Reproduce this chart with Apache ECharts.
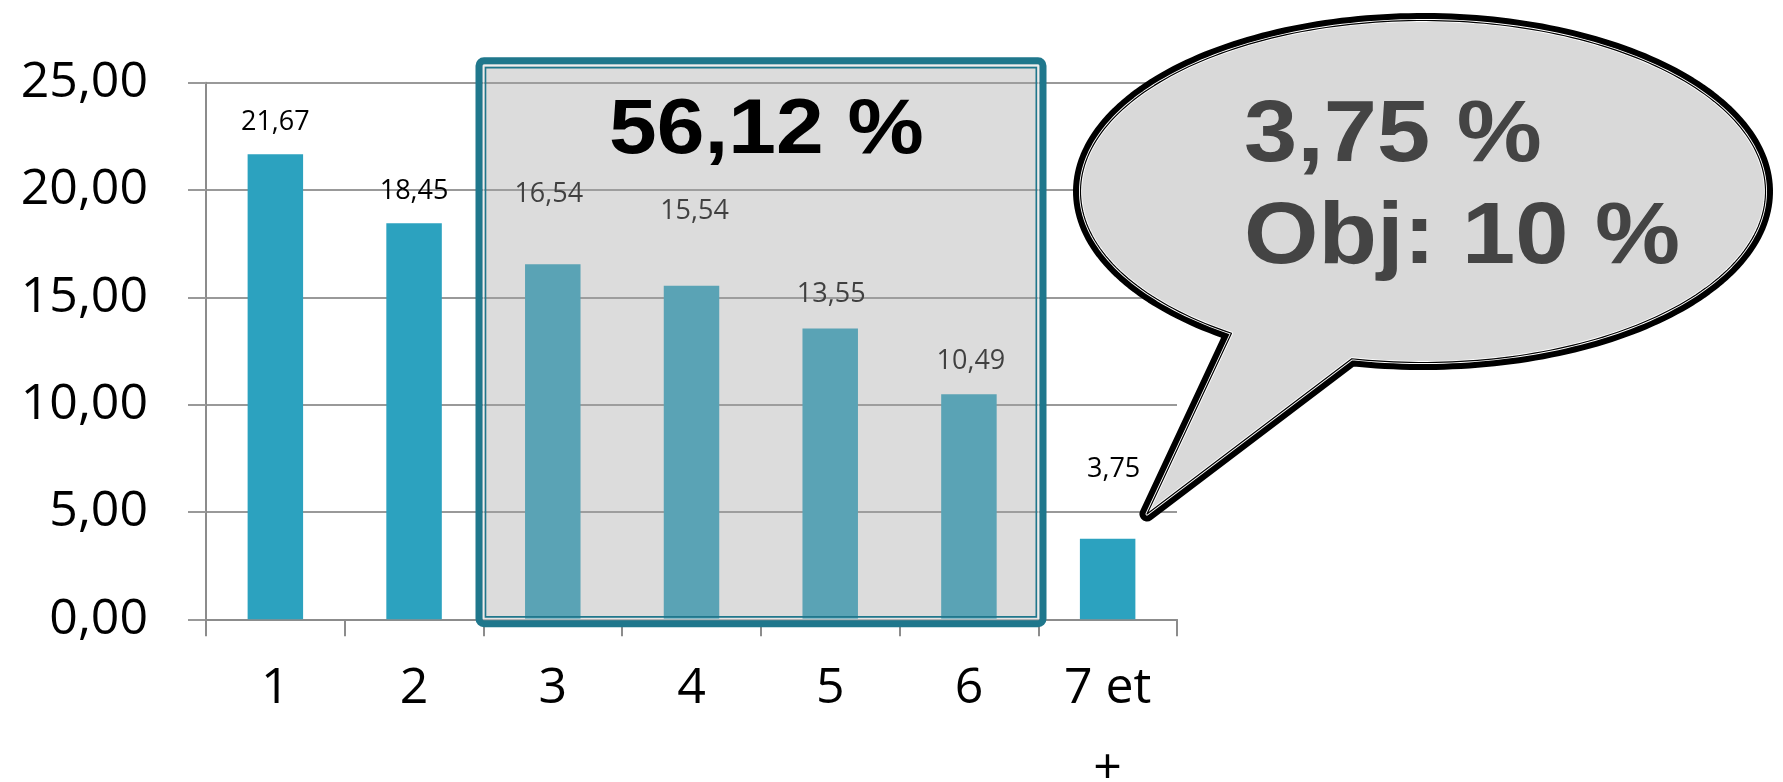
<!DOCTYPE html>
<html><head><meta charset="utf-8">
<script src="https://cdn.jsdelivr.net/npm/echarts@6/dist/echarts.min.js"></script>
<style>html,body{margin:0;padding:0;background:#fff}#c{width:1783px;height:782px}</style>
</head><body><div id="c"></div>
<script>
// ---- data ----
const categories = ['1', '2', '3', '4', '5', '6', '7 et\n+'];
const values = [21.67, 18.45, 16.54, 15.54, 13.55, 10.49, 3.75];
const yMin = 0, yMax = 25, yStep = 5;
const boxText = '56,12 %';
const calloutLines = ['3,75 %', 'Obj: 10 %'];

// ---- style (label placement, px) ----
const labelLift = [32, 32, 70, 74, 34, 33, 69];
const labelShift = [0, 0, -4, 3, 1, 2, 6];

const fmt = v => Number(v).toFixed(2).replace('.', ',');
const chart = echarts.init(document.getElementById('c'), null, {renderer: 'canvas'});

// callout polygon (decoration)
function calloutPoints() {
  const cx = 1423, cy = 191.5, rx = 342.5, ry = 171;
  const a1 = 124 * Math.PI / 180, a2 = (360 + 102) * Math.PI / 180;
  const pts = [];
  const n = 240;
  for (let i = 0; i <= n; i++) {
    const t = a1 + (a2 - a1) * i / n;
    pts.push([cx + rx * Math.cos(t), cy + ry * Math.sin(t)]);
  }
  pts.push([1147, 514]);
  return pts;
}
const cp = calloutPoints();
const boldFont = s => 'bold ' + s + 'px "Liberation Sans", Arial, sans-serif';

const L = 479, T = 60.7, R = 1043, B = 623.7;

chart.setOption({
  animation: false,
  backgroundColor: '#ffffff',
  grid: {left: 206, right: 606, top: 82.7, bottom: 162.7, containLabel: false, outerBoundsMode: 'none'},
  xAxis: {
    type: 'category',
    data: categories,
    axisLine: {show: true, lineStyle: {color: '#8c8c8c', width: 2}},
    axisTick: {show: true, length: 17, lineStyle: {color: '#8c8c8c', width: 2}},
    axisLabel: {interval: 0, color: '#000', fontFamily: '"Open Sans", sans-serif', fontSize: 50, lineHeight: 81, margin: 29}
  },
  yAxis: {
    type: 'value', min: yMin, max: yMax, interval: yStep,
    axisLine: {show: true, lineStyle: {color: '#8c8c8c', width: 2}},
    axisTick: {show: true, length: 18, lineStyle: {color: '#999', width: 2}},
    splitLine: {show: true, lineStyle: {color: '#999', width: 2}},
    axisLabel: {color: '#000', fontFamily: '"Open Sans", sans-serif', fontSize: 50, margin: 58, formatter: v => fmt(v)}
  },
  series: [{
    type: 'bar',
    barWidth: '40%',
    itemStyle: {color: '#2ca2bf'},
    data: values.map((v, i) => ({
      value: v,
      label: {position: ['50%', -labelLift[i]], offset: [labelShift[i], 0]}
    })),
    label: {
      show: true, align: 'center', verticalAlign: 'middle',
      color: '#000', fontFamily: '"Open Sans", sans-serif', fontSize: 27,
      formatter: p => fmt(p.value)
    }
  }],
  graphic: [
    // shaded box overlay
    {type: 'rect', z: 100, shape: {x: L, y: T, width: R - L, height: B - T, r: 4},
      style: {fill: 'rgba(166,166,166,0.39)'}},
    {type: 'rect', z: 101, shape: {x: 483.7, y: 65.4, width: 1038.3 - 483.7, height: 619 - 65.4},
      style: {fill: 'none', stroke: 'rgba(255,255,255,0.55)', lineWidth: 1.2}},
    {type: 'rect', z: 101, shape: {x: 485.5, y: 67.6, width: 1036.3 - 485.5, height: 616.9 - 67.6},
      style: {fill: 'none', stroke: '#1f778c', lineWidth: 1.6}},
    {type: 'rect', z: 102, shape: {x: L, y: T, width: R - L, height: B - T, r: 5},
      style: {fill: 'none', stroke: '#1f778c', lineWidth: 7}},
    {type: 'text', z: 110, x: 609, y: 131.3, scaleX: 1.1,
      style: {text: boxText, font: boldFont(78), fill: '#000', textAlign: 'left', textVerticalAlign: 'middle', align: 'left', verticalAlign: 'middle'}},
    // callout
    {type: 'polygon', z: 120, shape: {points: cp},
      style: {fill: 'none', stroke: '#000', lineWidth: 15, lineJoin: 'round'}},
    {type: 'polygon', z: 121, shape: {points: cp},
      style: {fill: '#d9d9d9', stroke: null}},
    {type: 'polygon', z: 122, shape: {points: cp},
      style: {fill: 'none', stroke: '#fff', lineWidth: 3, lineJoin: 'round'}},
    {type: 'polygon', z: 123, shape: {points: cp},
      style: {fill: 'none', stroke: '#000', lineWidth: 1.2, lineJoin: 'round'}},
    {type: 'text', z: 130, x: 1244, y: 137, scaleX: 1.1,
      style: {text: calloutLines[0], font: boldFont(87), fill: '#444', textAlign: 'left', textVerticalAlign: 'middle', align: 'left', verticalAlign: 'middle'}},
    {type: 'text', z: 130, x: 1244, y: 239, scaleX: 1.1,
      style: {text: calloutLines[1], font: boldFont(87), fill: '#444', textAlign: 'left', textVerticalAlign: 'middle', align: 'left', verticalAlign: 'middle'}}
  ]
});
</script>
</body></html>
